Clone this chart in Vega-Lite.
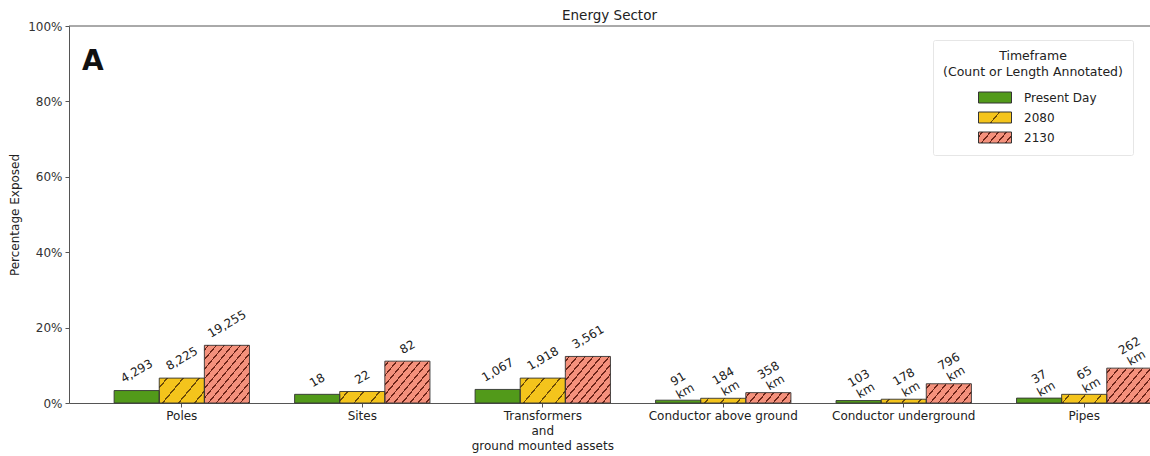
{
  "$schema": "https://vega.github.io/schema/vega-lite/v6.json",
  "width": 1081,
  "height": 377,
  "autosize": {"type": "none"},
  "padding": {"left": 69, "top": 26, "right": 0, "bottom": 53},
  "background": "white",
  "config": {"view": {"stroke": null}, "font": "DejaVu Sans"},
  "title": {"text": "Energy Sector", "font": "DejaVu Sans", "fontSize": 13.5, "fontWeight": "normal", "color": "#222", "anchor": "middle", "frame": "group", "offset": -2},
  "datasets": {
    "main": [
      {"category": "Poles", "timeframe": "Present Day", "pct": 3.3, "label": "4,293"},
      {"category": "Poles", "timeframe": "2080", "pct": 6.6, "label": "8,225"},
      {"category": "Poles", "timeframe": "2130", "pct": 15.3, "label": "19,255"},
      {"category": "Sites", "timeframe": "Present Day", "pct": 2.3, "label": "18"},
      {"category": "Sites", "timeframe": "2080", "pct": 3.05, "label": "22"},
      {"category": "Sites", "timeframe": "2130", "pct": 11.1, "label": "82"},
      {"category": "Transformers and ground mounted assets", "timeframe": "Present Day", "pct": 3.6, "label": "1,067"},
      {"category": "Transformers and ground mounted assets", "timeframe": "2080", "pct": 6.6, "label": "1,918"},
      {"category": "Transformers and ground mounted assets", "timeframe": "2130", "pct": 12.35, "label": "3,561"},
      {"category": "Conductor above ground", "timeframe": "Present Day", "pct": 0.75, "label": ["91", "km"]},
      {"category": "Conductor above ground", "timeframe": "2080", "pct": 1.25, "label": ["184", "km"]},
      {"category": "Conductor above ground", "timeframe": "2130", "pct": 2.75, "label": ["358", "km"]},
      {"category": "Conductor underground", "timeframe": "Present Day", "pct": 0.65, "label": ["103", "km"]},
      {"category": "Conductor underground", "timeframe": "2080", "pct": 1.0, "label": ["178", "km"]},
      {"category": "Conductor underground", "timeframe": "2130", "pct": 5.1, "label": ["796", "km"]},
      {"category": "Pipes", "timeframe": "Present Day", "pct": 1.3, "label": ["37", "km"]},
      {"category": "Pipes", "timeframe": "2080", "pct": 2.3, "label": ["65", "km"]},
      {"category": "Pipes", "timeframe": "2130", "pct": 9.25, "label": ["262", "km"]}
    ]
  },
  "layer": [
    {
      "data": {"name": "main"},
      "mark": {"type": "bar", "fill": {"expr": "datum.timeframe === 'Present Day' ? '#529a1a' : datum.timeframe === '2080' ? '#f4c41c' : '#f4917c'"}},
      "encoding": {
        "x": {
          "field": "category", "type": "nominal",
          "scale": {"domain": ["Poles", "Sites", "Transformers and ground mounted assets", "Conductor above ground", "Conductor underground", "Pipes"], "range": [0, 1128], "paddingInner": 0.25, "paddingOuter": 0.25},
          "axis": {"title": null, "labelAngle": 0, "tickSize": 4, "labelPadding": 3, "labelFont": "DejaVu Sans", "labelFontSize": 12, "labelLineHeight": 15, "labelColor": "#222", "domainColor": "#555", "tickColor": "#555",
            "labelExpr": "datum.value === 'Transformers and ground mounted assets' ? ['Transformers', 'and', 'ground mounted assets'] : datum.value"}
        },
        "xOffset": {"field": "timeframe", "type": "nominal", "scale": {"domain": ["Present Day", "2080", "2130"], "paddingInner": 0, "paddingOuter": 0}},
        "y": {
          "field": "pct", "type": "quantitative",
          "scale": {"domain": [0, 100], "nice": false},
          "axis": {"title": "Percentage Exposed", "values": [0, 10, 20, 30, 40, 50, 60, 70, 80, 90, 100], "labelExpr": "datum.value % 20 === 0 ? datum.value + '%' : ''", "grid": false, "tickSize": 4, "labelPadding": 3, "domainColor": "#555", "tickColor": "#555", "labelColor": "#333", "labelFont": "DejaVu Sans", "labelFontSize": 12, "titleFont": "DejaVu Sans", "titleFontSize": 12, "titleFontWeight": "normal", "titleColor": "#222", "titlePadding": 6}
        }
      }
    },
    {
      "data": {"name": "main"},
      "mark": {
        "type": "bar", "stroke": "#333", "strokeWidth": 0.9,
        "fill": {"expr": "datum.timeframe === '2130' ? {gradient:'linear',x1:0,y1:0,x2:161.28*bandwidth('xOffset')/(1.44*pow(bandwidth('xOffset'),2)+pow(scale('y',0)-scale('y',datum.pct),2)),y2:134.4*(scale('y',0)-scale('y',datum.pct))/(1.44*pow(bandwidth('xOffset'),2)+pow(scale('y',0)-scale('y',datum.pct),2)),stops:[{offset:0,color:'transparent'},{offset:0.0287,color:'transparent'},{offset:0.0287,color:'#6b2418'},{offset:0.0426,color:'#6b2418'},{offset:0.0426,color:'transparent'},{offset:0.1002,color:'transparent'},{offset:0.1002,color:'#6b2418'},{offset:0.1141,color:'#6b2418'},{offset:0.1141,color:'transparent'},{offset:0.1716,color:'transparent'},{offset:0.1716,color:'#6b2418'},{offset:0.1855,color:'#6b2418'},{offset:0.1855,color:'transparent'},{offset:0.243,color:'transparent'},{offset:0.243,color:'#6b2418'},{offset:0.257,color:'#6b2418'},{offset:0.257,color:'transparent'},{offset:0.3145,color:'transparent'},{offset:0.3145,color:'#6b2418'},{offset:0.3284,color:'#6b2418'},{offset:0.3284,color:'transparent'},{offset:0.3859,color:'transparent'},{offset:0.3859,color:'#6b2418'},{offset:0.3998,color:'#6b2418'},{offset:0.3998,color:'transparent'},{offset:0.4573,color:'transparent'},{offset:0.4573,color:'#6b2418'},{offset:0.4713,color:'#6b2418'},{offset:0.4713,color:'transparent'},{offset:0.5288,color:'transparent'},{offset:0.5288,color:'#6b2418'},{offset:0.5427,color:'#6b2418'},{offset:0.5427,color:'transparent'},{offset:0.6002,color:'transparent'},{offset:0.6002,color:'#6b2418'},{offset:0.6141,color:'#6b2418'},{offset:0.6141,color:'transparent'},{offset:0.6716,color:'transparent'},{offset:0.6716,color:'#6b2418'},{offset:0.6855,color:'#6b2418'},{offset:0.6855,color:'transparent'},{offset:0.743,color:'transparent'},{offset:0.743,color:'#6b2418'},{offset:0.757,color:'#6b2418'},{offset:0.757,color:'transparent'},{offset:0.8145,color:'transparent'},{offset:0.8145,color:'#6b2418'},{offset:0.8284,color:'#6b2418'},{offset:0.8284,color:'transparent'},{offset:1,color:'transparent'}]} : datum.timeframe === '2080' ? {gradient:'linear',x1:0,y1:0,x2:161.28*bandwidth('xOffset')/(1.44*pow(bandwidth('xOffset'),2)+pow(scale('y',0)-scale('y',datum.pct),2)),y2:134.4*(scale('y',0)-scale('y',datum.pct))/(1.44*pow(bandwidth('xOffset'),2)+pow(scale('y',0)-scale('y',datum.pct),2)),stops:[{offset:0,color:'transparent'},{offset:0.0645,color:'transparent'},{offset:0.0645,color:'#6b4a08'},{offset:0.0784,color:'#6b4a08'},{offset:0.0784,color:'transparent'},{offset:0.2073,color:'transparent'},{offset:0.2073,color:'#6b4a08'},{offset:0.2212,color:'#6b4a08'},{offset:0.2212,color:'transparent'},{offset:0.3502,color:'transparent'},{offset:0.3502,color:'#6b4a08'},{offset:0.3641,color:'#6b4a08'},{offset:0.3641,color:'transparent'},{offset:0.493,color:'transparent'},{offset:0.493,color:'#6b4a08'},{offset:0.507,color:'#6b4a08'},{offset:0.507,color:'transparent'},{offset:0.6359,color:'transparent'},{offset:0.6359,color:'#6b4a08'},{offset:0.6498,color:'#6b4a08'},{offset:0.6498,color:'transparent'},{offset:0.7788,color:'transparent'},{offset:0.7788,color:'#6b4a08'},{offset:0.7927,color:'#6b4a08'},{offset:0.7927,color:'transparent'},{offset:1,color:'transparent'}]} : 'transparent'"}
      },
      "encoding": {
        "x": {"field": "category", "type": "nominal", "axis": {"title": null}},
        "xOffset": {"field": "timeframe", "type": "nominal"},
        "y": {"field": "pct", "type": "quantitative", "axis": {"title": "Percentage Exposed"}}
      }
    },
    {
      "data": {"name": "main"},
      "mark": {
        "type": "text", "angle": -30, "align": "center", "baseline": "middle", "font": "DejaVu Sans", "fontSize": 12, "lineHeight": 14, "color": "#222",
        "dx": {"expr": "0.5*(4.5+(0.5*(isArray(datum.label) ? max(length(datum.label[0])*0.636, 1.55)*12 : length(datum.label)*7.2)+0.866*(isArray(datum.label) ? 28 : 14))/2)"},
        "dy": {"expr": "-0.866*(4.5+(0.5*(isArray(datum.label) ? max(length(datum.label[0])*0.636, 1.55)*12 : length(datum.label)*7.2)+0.866*(isArray(datum.label) ? 28 : 14))/2)"}
      },
      "encoding": {
        "x": {"field": "category", "type": "nominal", "axis": {"title": null}},
        "xOffset": {"field": "timeframe", "type": "nominal"},
        "y": {"field": "pct", "type": "quantitative", "axis": {"title": "Percentage Exposed"}},
        "text": {"field": "label", "type": "nominal"}
      }
    },
    {
      "data": {"values": [{"panel": "A"}]},
      "mark": {"type": "text", "align": "left", "baseline": "alphabetic", "font": "DejaVu Sans", "fontWeight": "bold", "fontSize": 28, "dx": -32, "color": "#111"},
      "encoding": {
        "x": {"datum": "Poles", "type": "nominal", "bandPosition": 0, "axis": {"title": null}},
        "y": {"datum": 88.3, "type": "quantitative", "axis": {"title": "Percentage Exposed"}},
        "text": {"field": "panel", "type": "nominal"}
      }
    },
    {
      "data": {"values": [{"edge": "top"}]},
      "mark": {"type": "rule", "color": "#555", "strokeWidth": 1},
      "encoding": {
        "y": {"datum": 100, "type": "quantitative", "axis": {"title": "Percentage Exposed"}}
      }
    },
    {
      "data": {"name": "main"},
      "mark": {"type": "bar", "strokeWidth": 0},
      "encoding": {
        "x": {"field": "category", "type": "nominal", "axis": {"title": null}},
        "xOffset": {"field": "timeframe", "type": "nominal"},
        "y": {"datum": 0, "type": "quantitative", "axis": {"title": "Percentage Exposed"}},
        "y2": {"datum": 0},
        "fill": {
          "field": "timeframe", "type": "nominal",
          "scale": {"domain": ["Present Day", "2080", "2130"], "range": ["#529a1a",
            {"expr": "{gradient:'linear',x1:0,y1:0,x2:3.151,y2:0.875,stops:[{offset:0,color:'#f4c41c'},{offset:0.181,color:'#f4c41c'},{offset:0.181,color:'#6b4a08'},{offset:0.195,color:'#6b4a08'},{offset:0.195,color:'#f4c41c'},{offset:1,color:'#f4c41c'}]}"},
            {"expr": "{gradient:'linear',x1:0,y1:0,x2:3.151,y2:0.875,stops:[{offset:0,color:'#f4917c'},{offset:0.0287,color:'#f4917c'},{offset:0.0287,color:'#6b2418'},{offset:0.0426,color:'#6b2418'},{offset:0.0426,color:'#f4917c'},{offset:0.1002,color:'#f4917c'},{offset:0.1002,color:'#6b2418'},{offset:0.1141,color:'#6b2418'},{offset:0.1141,color:'#f4917c'},{offset:0.1716,color:'#f4917c'},{offset:0.1716,color:'#6b2418'},{offset:0.1855,color:'#6b2418'},{offset:0.1855,color:'#f4917c'},{offset:0.243,color:'#f4917c'},{offset:0.243,color:'#6b2418'},{offset:0.257,color:'#6b2418'},{offset:0.257,color:'#f4917c'},{offset:0.3145,color:'#f4917c'},{offset:0.3145,color:'#6b2418'},{offset:0.3284,color:'#6b2418'},{offset:0.3284,color:'#f4917c'},{offset:1,color:'#f4917c'}]}"}
          ]},
          "legend": {
            "orient": "none", "legendX": 864, "legendY": 14,
            "title": ["Timeframe", "(Count or Length Annotated)"],
            "titleFont": "DejaVu Sans", "titleFontSize": 12.5, "titleFontWeight": "normal", "titleColor": "#222", "titleAnchor": "middle", "titleAlign": "center", "titleLineHeight": 16, "titlePadding": 13,
            "labelFont": "DejaVu Sans", "labelFontSize": 12, "labelColor": "#222",
            "symbolType": "M-3,-1H3V1H-3Z", "symbolSize": 121, "symbolStrokeColor": "#333", "symbolStrokeWidth": 1, "symbolOpacity": 1,
            "symbolOffset": 19, "labelOffset": 23, "rowPadding": 4,
            "padding": 10, "strokeColor": "#e6e6e6", "fillColor": "white", "cornerRadius": 2
          }
        }
      }
    }
  ]
}
